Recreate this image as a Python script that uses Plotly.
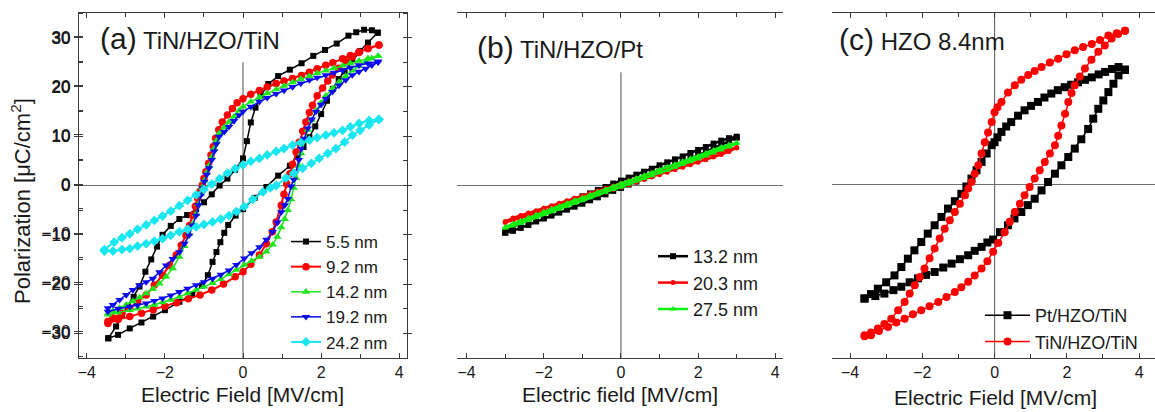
import plotly.graph_objects as go

# ---------------- Panel (a): TiN/HZO/TiN, thickness series ----------------
a_labels = ["5.5 nm", "9.2 nm", "14.2 nm", "19.2 nm", "24.2 nm"]

e55_lo = [-3.45, -3.2, -2.9, -2.6, -2.3, -2.0, -1.63, -1.3, -1.05, -0.9, -0.78, -0.68, -0.58, -0.48, -0.38, -0.19, 0.0, 0.3, 0.6, 0.9, 1.2, 1.4, 1.55, 1.7, 1.85, 2.0, 2.15, 2.3, 2.45, 2.6, 2.8, 3.0, 3.2, 3.45]
p55_lo = [-31.0, -30.3, -29.0, -27.8, -26.6, -25.3, -23.6, -22.1, -20.3, -18.2, -15.5, -13.5, -11.5, -9.6, -8.0, -6.1, -4.8, -2.5, -0.3, 2.0, 4.0, 6.0, 7.8, 9.8, 12.0, 14.5, 17.2, 19.6, 21.6, 23.2, 25.4, 27.3, 29.0, 31.0]
e55_up = [3.45, 3.3, 3.1, 2.9, 2.7, 2.4, 2.1, 1.8, 1.5, 1.2, 0.9, 0.65, 0.45, 0.32, 0.2, 0.1, 0.0, -0.2, -0.4, -0.6, -0.8, -1.0, -1.2, -1.43, -1.63, -1.85, -2.06, -2.2, -2.35, -2.5, -2.65, -2.8, -2.95, -3.1, -3.25, -3.45]
p55_up = [31.0, 31.5, 31.6, 31.1, 30.4, 28.8, 27.5, 26.3, 24.8, 23.5, 22.2, 20.6, 18.2, 15.8, 12.8, 9.0, 5.5, 3.2, 1.4, 0.0, -1.8, -3.4, -4.8, -6.0, -6.8, -8.2, -10.0, -12.4, -15.0, -17.5, -20.5, -22.6, -24.4, -26.4, -28.6, -31.0]

e92_lo = [-3.46, -3.2, -2.9, -2.6, -2.3, -2.0, -1.7, -1.4, -1.1, -0.8, -0.5, -0.2, 0.0, 0.2, 0.42, 0.6, 0.75, 0.85, 0.98, 1.05, 1.12, 1.2, 1.27, 1.36, 1.44, 1.53, 1.61, 1.7, 1.78, 1.9, 2.04, 2.17, 2.29, 2.45, 2.63, 2.8, 2.97, 3.2, 3.48]
p92_lo = [-28.0, -27.2, -26.6, -25.9, -25.2, -24.5, -23.8, -23.0, -22.2, -21.2, -20.0, -18.5, -17.5, -16.0, -14.1, -11.8, -9.4, -7.4, -4.0, -1.8, 0.3, 2.4, 4.3, 6.8, 8.8, 11.0, 12.9, 14.8, 16.3, 18.2, 19.8, 21.2, 22.4, 23.8, 25.1, 26.1, 27.0, 27.8, 28.5]
e92_up = [3.48, 3.2, 2.97, 2.75, 2.55, 2.3, 2.12, 1.9, 1.7, 1.5, 1.27, 1.05, 0.85, 0.62, 0.42, 0.2, 0.0, -0.15, -0.27, -0.4, -0.53, -0.62, -0.7, -0.76, -0.82, -0.88, -0.95, -1.0, -1.04, -1.1, -1.16, -1.22, -1.29, -1.37, -1.46, -1.58, -1.71, -1.88, -2.06, -2.27, -2.48, -2.7, -2.9, -3.1, -3.33, -3.46]
p92_up = [28.5, 27.8, 27.1, 26.4, 25.7, 24.9, 24.4, 23.7, 23.0, 22.3, 21.7, 21.2, 20.7, 20.0, 19.3, 18.5, 17.6, 16.8, 15.6, 14.3, 12.9, 11.3, 9.6, 7.9, 6.2, 4.5, 2.8, 1.4, 0.1, -1.2, -2.6, -4.2, -6.1, -8.1, -10.1, -12.1, -14.1, -16.2, -18.2, -20.2, -22.2, -23.6, -24.9, -25.9, -26.9, -27.6]

e_thick_up = [3.46, 3.2, 2.97, 2.75, 2.55, 2.33, 2.12, 1.9, 1.7, 1.48, 1.27, 1.05, 0.85, 0.62, 0.42, 0.2, 0.0, -0.1, -0.23, -0.36, -0.48, -0.61, -0.68, -0.74, -0.8, -0.87, -0.93, -0.99, -1.04, -1.08, -1.14, -1.2, -1.29, -1.38, -1.5, -1.63, -1.8, -1.97, -2.14, -2.31, -2.48, -2.65, -2.82, -2.99, -3.16, -3.33, -3.46]
e_thick_lo = [-3.46, -3.2, -2.9, -2.7, -2.48, -2.27, -2.06, -1.85, -1.63, -1.42, -1.2, -1.0, -0.78, -0.57, -0.36, -0.17, 0.03, 0.22, 0.42, 0.6, 0.76, 0.88, 0.98, 1.07, 1.15, 1.23, 1.3, 1.36, 1.43, 1.49, 1.57, 1.66, 1.76, 1.87, 2.0, 2.12, 2.29, 2.46, 2.63, 2.8, 2.97, 3.14, 3.3, 3.46]

p142_lo = [-26.2, -25.8, -25.3, -25.0, -24.6, -24.2, -23.7, -23.2, -22.6, -21.9, -21.2, -20.5, -19.8, -19.0, -18.0, -17.1, -16.1, -15.3, -14.5, -13.4, -12.0, -10.4, -8.5, -6.8, -5.0, -2.8, -0.5, 1.5, 4.0, 6.5, 9.0, 11.3, 13.3, 15.2, 16.8, 18.2, 19.7, 21.0, 22.2, 23.3, 24.2, 25.0, 25.8, 26.3]
p142_up = [26.3, 25.8, 25.3, 24.8, 24.3, 23.8, 23.3, 22.8, 22.2, 21.6, 20.9, 20.2, 19.5, 18.7, 17.9, 17.0, 16.0, 15.2, 14.0, 12.9, 11.8, 10.6, 9.1, 7.5, 5.8, 4.0, 2.6, 1.0, -0.4, -1.8, -3.8, -5.8, -7.8, -9.8, -12.3, -14.5, -16.8, -18.5, -19.9, -21.0, -21.9, -22.7, -23.5, -24.2, -24.9, -25.5, -26.0]

p192_lo = [-25.6, -25.0, -24.6, -24.3, -23.9, -23.4, -22.9, -22.3, -21.6, -20.9, -20.2, -19.6, -18.9, -18.1, -17.2, -16.1, -14.8, -13.7, -12.5, -11.0, -9.4, -7.5, -5.4, -4.0, -2.7, -0.2, 1.2, 2.8, 5.2, 7.5, 9.5, 11.6, 13.4, 15.0, 16.4, 17.6, 19.0, 20.3, 21.4, 22.4, 23.1, 23.7, 24.4, 25.0]
p192_up = [25.2, 24.8, 24.4, 23.9, 23.4, 22.9, 22.4, 21.9, 21.4, 20.7, 20.0, 19.3, 18.6, 17.8, 17.0, 16.0, 15.0, 14.3, 13.1, 11.9, 10.9, 9.9, 8.4, 6.9, 5.2, 3.5, 2.2, 0.8, -0.6, -2.0, -4.0, -6.1, -8.1, -10.1, -11.8, -13.5, -14.9, -16.2, -17.6, -18.9, -19.6, -20.2, -21.2, -22.2, -23.2, -24.2, -24.9]

e242_lo = [-3.55, -3.33, -3.1, -2.9, -2.7, -2.48, -2.27, -2.06, -1.85, -1.63, -1.42, -1.2, -1.0, -0.78, -0.57, -0.36, -0.17, 0.03, 0.25, 0.51, 0.7, 0.85, 1.1, 1.3, 1.53, 1.75, 1.95, 2.17, 2.38, 2.6, 2.8, 3.0, 3.23, 3.48]
p242_lo = [-13.3, -13.3, -13.0, -12.8, -12.3, -11.8, -11.3, -10.8, -10.1, -9.4, -8.9, -8.4, -7.9, -7.4, -6.8, -6.1, -5.3, -4.3, -2.8, -1.3, -0.5, 0.0, 1.5, 2.5, 3.5, 4.5, 5.5, 6.5, 7.5, 8.8, 10.2, 11.2, 12.3, 13.4]
e242_up = [3.48, 3.23, 2.97, 2.75, 2.55, 2.33, 2.12, 1.9, 1.7, 1.48, 1.27, 1.05, 0.85, 0.62, 0.42, 0.2, 0.0, -0.2, -0.4, -0.6, -0.8, -1.0, -1.2, -1.42, -1.63, -1.85, -2.06, -2.27, -2.48, -2.7, -2.9, -3.1, -3.3, -3.55]
p242_up = [13.4, 13.2, 12.6, 11.9, 11.2, 10.7, 10.2, 9.7, 9.2, 8.7, 8.2, 7.5, 6.9, 6.2, 5.5, 4.9, 4.2, 3.4, 2.5, 1.4, 0.3, -0.8, -1.9, -3.0, -4.1, -5.2, -6.2, -7.1, -8.0, -8.9, -9.8, -10.6, -11.5, -13.0]

# ---------------- Panel (b): TiN/HZO/Pt ----------------
b_labels = ["13.2 nm", "20.3 nm", "27.5 nm"]
eb_lo = [-3.0, -2.8, -2.6, -2.4, -2.2, -2.0, -1.8, -1.6, -1.4, -1.2, -1.0, -0.8, -0.6, -0.4, -0.2, 0.0, 0.2, 0.4, 0.6, 0.8, 1.0, 1.2, 1.4, 1.6, 1.8, 2.0, 2.2, 2.4, 2.6, 2.8, 3.0]
eb_up = [3.0, 2.8, 2.6, 2.4, 2.2, 2.0, 1.8, 1.6, 1.4, 1.2, 1.0, 0.8, 0.6, 0.4, 0.2, 0.0, -0.2, -0.4, -0.6, -0.8, -1.0, -1.2, -1.4, -1.6, -1.8, -2.0, -2.2, -2.4, -2.6, -2.8, -3.0]
pb132_lo = [-9.6, -9.2, -8.6, -8.0, -7.3, -6.7, -6.1, -5.5, -4.9, -4.3, -3.7, -3.0, -2.4, -1.8, -1.1, -0.5, 0.2, 0.8, 1.5, 2.1, 2.8, 3.4, 4.1, 4.7, 5.4, 6.1, 6.8, 7.5, 8.2, 8.9, 9.7]
pb132_up = [9.9, 9.6, 9.1, 8.5, 7.8, 7.2, 6.6, 5.9, 5.3, 4.7, 4.1, 3.4, 2.8, 2.2, 1.6, 1.0, 0.4, -0.3, -0.9, -1.6, -2.2, -2.9, -3.5, -4.2, -4.9, -5.5, -6.2, -6.9, -7.6, -8.4, -9.5]
pb203_lo = [-7.5, -7.0, -6.6, -6.1, -5.6, -5.2, -4.7, -4.2, -3.8, -3.3, -2.8, -2.3, -1.8, -1.3, -0.8, -0.3, 0.2, 0.7, 1.2, 1.7, 2.2, 2.7, 3.2, 3.7, 4.2, 4.7, 5.2, 5.8, 6.3, 6.9, 7.6]
pb203_up = [7.7, 7.3, 6.9, 6.4, 5.9, 5.4, 4.9, 4.4, 3.9, 3.4, 2.9, 2.4, 1.9, 1.4, 0.9, 0.4, -0.1, -0.6, -1.1, -1.6, -2.1, -2.6, -3.1, -3.6, -4.1, -4.6, -5.1, -5.6, -6.1, -6.6, -7.3]
pb275_lo = [-8.6, -8.2, -7.7, -7.1, -6.5, -5.9, -5.4, -4.8, -4.2, -3.6, -3.1, -2.5, -1.9, -1.4, -0.8, -0.3, 0.3, 0.9, 1.4, 2.0, 2.6, 3.1, 3.7, 4.3, 4.8, 5.4, 6.0, 6.6, 7.2, 7.8, 8.5]
pb275_up = [8.7, 8.3, 7.8, 7.2, 6.6, 6.0, 5.5, 4.9, 4.3, 3.8, 3.2, 2.6, 2.1, 1.5, 0.9, 0.4, -0.2, -0.8, -1.3, -1.9, -2.5, -3.0, -3.6, -4.2, -4.7, -5.3, -5.9, -6.5, -7.1, -7.7, -8.4]

# ---------------- Panel (c): HZO 8.4 nm, electrode comparison ----------------
c_labels = ["Pt/HZO/TiN", "TiN/HZO/TiN"]
ec_pt_lo = [-3.6, -3.3, -3.05, -2.8, -2.58, -2.35, -2.12, -1.9, -1.66, -1.42, -1.19, -0.96, -0.73, -0.55, -0.36, -0.2, -0.04, 0.15, 0.37, 0.55, 0.74, 0.92, 1.11, 1.3, 1.48, 1.67, 1.85, 2.04, 2.22, 2.4, 2.59, 2.73, 2.87, 3.01, 3.15, 3.29, 3.43, 3.61]
pc_pt_lo = [-23.3, -22.8, -22.3, -21.6, -20.9, -20.0, -19.2, -18.5, -17.9, -17.0, -16.2, -15.3, -14.5, -13.6, -12.8, -11.9, -11.3, -9.8, -8.4, -7.0, -5.7, -4.3, -3.0, -1.3, 0.4, 2.1, 3.8, 5.5, 7.2, 9.1, 11.2, 13.3, 15.3, 17.0, 18.7, 20.4, 22.1, 23.2]
ec_pt_up = [3.61, 3.43, 3.25, 3.06, 2.88, 2.69, 2.5, 2.31, 2.12, 1.94, 1.75, 1.57, 1.38, 1.2, 1.01, 0.83, 0.65, 0.46, 0.32, 0.19, 0.08, 0.0, -0.08, -0.22, -0.36, -0.5, -0.64, -0.78, -0.92, -1.1, -1.29, -1.47, -1.66, -1.85, -2.03, -2.22, -2.4, -2.58, -2.77, -3.0, -3.23, -3.42, -3.6]
pc_pt_up = [23.3, 23.8, 23.4, 22.8, 22.3, 21.7, 21.2, 20.7, 20.2, 19.7, 19.1, 18.4, 17.6, 16.7, 15.9, 15.0, 13.9, 12.6, 11.7, 10.6, 9.5, 8.5, 7.9, 6.2, 4.5, 2.8, 1.1, -0.5, -2.0, -3.5, -5.0, -6.7, -8.4, -10.1, -11.8, -13.5, -15.2, -16.9, -18.6, -20.0, -21.3, -22.4, -23.3]
ec_tin_lo = [-3.6, -3.42, -3.2, -2.95, -2.72, -2.49, -2.26, -2.03, -1.8, -1.56, -1.33, -1.1, -0.92, -0.73, -0.55, -0.36, -0.2, -0.04, 0.1, 0.28, 0.42, 0.56, 0.7, 0.83, 0.97, 1.11, 1.25, 1.39, 1.53, 1.67, 1.76, 1.85, 1.95, 2.04, 2.13, 2.22, 2.36, 2.5, 2.68, 2.87, 3.05, 3.24, 3.42, 3.61]
pc_tin_lo = [-31.0, -30.8, -29.9, -29.1, -28.2, -27.4, -26.5, -25.7, -24.9, -24.0, -23.0, -22.0, -21.0, -19.9, -18.6, -17.2, -15.7, -13.8, -12.0, -9.8, -7.7, -5.7, -4.0, -2.3, -0.6, 1.1, 2.8, 4.5, 6.2, 7.9, 9.8, 11.9, 14.3, 16.7, 18.5, 20.1, 21.9, 23.5, 25.3, 26.9, 28.2, 29.6, 30.5, 31.2]
ec_tin_up = [3.61, 3.38, 3.15, 2.92, 2.69, 2.45, 2.22, 1.99, 1.76, 1.53, 1.3, 1.11, 0.93, 0.74, 0.56, 0.37, 0.19, 0.08, 0.0, -0.08, -0.18, -0.27, -0.36, -0.45, -0.55, -0.64, -0.73, -0.82, -0.96, -1.1, -1.24, -1.38, -1.52, -1.66, -1.8, -1.94, -2.07, -2.21, -2.35, -2.49, -2.67, -2.86, -3.05, -3.23, -3.42, -3.6]
pc_tin_up = [31.2, 30.7, 30.2, 29.3, 28.5, 27.9, 27.2, 26.4, 25.5, 24.7, 23.8, 23.0, 22.2, 21.2, 20.1, 18.6, 16.7, 15.6, 14.6, 12.6, 10.5, 8.5, 6.2, 3.8, 2.1, 0.4, -0.9, -2.3, -4.0, -5.7, -7.4, -9.1, -11.1, -13.1, -15.1, -17.2, -18.9, -20.6, -22.3, -24.0, -25.7, -27.4, -28.5, -29.4, -30.2, -30.8]

# ---------------- styling ----------------
FONT = "Arial, Liberation Sans, sans-serif"
TXT = "#1a1a1a"
AX = "#3a3a3a"
W, H = 1155, 412

fig = go.Figure()

def loop(name, elo, plo, eup, pup, color, symbol, msize, lw, ax, leg):
    fig.add_trace(go.Scatter(
        x=elo + eup, y=plo + pup, name=name, mode="lines+markers",
        line=dict(color=color, width=lw),
        marker=dict(symbol=symbol, size=msize, color=color, line=dict(width=0)),
        xaxis="x" + ax, yaxis="y" + ax, legend=leg))

loop(a_labels[0], e55_lo, p55_lo, e55_up, p55_up, "#000000", "square", 6, 1.5, "", "legend")
loop(a_labels[1], e92_lo, p92_lo, e92_up, p92_up, "#ff0000", "circle", 7.5, 2, "", "legend")
loop(a_labels[2], e_thick_lo, p142_lo, e_thick_up, p142_up, "#1ee61e", "triangle-up", 7.5, 1.5, "", "legend")
loop(a_labels[3], e_thick_lo, p192_lo, e_thick_up, p192_up, "#0a0aee", "triangle-down", 7.5, 1.5, "", "legend")
loop(a_labels[4], e242_lo, p242_lo, e242_up, p242_up, "#18e6f0", "diamond", 7.5, 2, "", "legend")

loop(b_labels[0], eb_lo, pb132_lo, eb_up, pb132_up, "#000000", "square", 6, 2.5, "2", "legend2")
loop(b_labels[1], eb_lo, pb203_lo, eb_up, pb203_up, "#ff0000", "circle", 5, 2.5, "2", "legend2")
loop(b_labels[2], eb_lo, pb275_lo, eb_up, pb275_up, "#10f010", "triangle-up", 6, 2.5, "2", "legend2")

loop(c_labels[0], ec_pt_lo, pc_pt_lo, ec_pt_up, pc_pt_up, "#000000", "square", 8, 1.5, "3", "legend3")
loop(c_labels[1], ec_tin_lo, pc_tin_lo, ec_tin_up, pc_tin_up, "#ff0000", "circle", 8, 1.5, "3", "legend3")

def px(v):
    return v / W

def py(v):
    return 1 - v / H

def xax(dom, rng):
    return dict(domain=dom, range=rng, showline=True, linecolor=AX, linewidth=1.3, mirror="ticks",
                ticks="inside", ticklen=5, tickcolor=AX, tickwidth=1.2, dtick=2, tick0=0,
                minor=dict(ticks="inside", ticklen=4, dtick=1, tickcolor=AX, showgrid=False),
                showgrid=False, zeroline=False, automargin=False,
                tickfont=dict(family=FONT, size=16, color=TXT))

def yax(dom, rng, mirror="ticks"):
    return dict(domain=dom, range=rng, showline=True, linecolor=AX, linewidth=1.3, mirror=mirror,
                ticks="outside", ticklen=4, tickcolor=AX, tickwidth=1.2, dtick=10, tick0=0,
                minor=dict(ticks="inside", ticklen=4, dtick=5, tickcolor=AX, showgrid=False),
                showgrid=False, zeroline=True, zerolinecolor="#6e6e6e", zerolinewidth=1.2,
                automargin=False, tickfont=dict(family=FONT, size=17, color=TXT))

ydom = [py(358), py(13)]
ydom_c = [py(356), py(12)]

fig.update_layout(
    width=W, height=H, margin=dict(l=0, r=0, t=0, b=0, autoexpand=False),
    paper_bgcolor="white", plot_bgcolor="white",
    xaxis=xax([px(79), px(407)], [-4.2, 4.2]),
    yaxis=yax(ydom, [-35, 35]),
    xaxis2=xax([px(457), px(783)], [-4.25, 4.2]),
    yaxis2=yax(ydom, [-35, 35]),
    xaxis3=xax([px(832), 1.0], [-4.5, 4.44]),
    yaxis3=yax(ydom_c, [-35, 35], mirror=False),
    legend=dict(x=px(286), y=py(224), xanchor="left", yanchor="top", bgcolor="rgba(0,0,0,0)",
                font=dict(family=FONT, size=17, color=TXT), itemwidth=30, tracegroupgap=0),
    legend2=dict(x=px(653), y=py(238), xanchor="left", yanchor="top", bgcolor="rgba(0,0,0,0)",
                 font=dict(family=FONT, size=18, color=TXT), itemwidth=30),
    legend3=dict(x=px(980), y=py(297), xanchor="left", yanchor="top", bgcolor="rgba(0,0,0,0)",
                 font=dict(family=FONT, size=18, color=TXT), itemwidth=45),
    showlegend=True,
)

# vertical zero lines
fig.add_shape(type="line", xref="x", yref="y", x0=0, x1=0, y0=-35, y1=25,
              line=dict(color="#6e6e6e", width=1.2), layer="below")
fig.add_shape(type="line", xref="x2", yref="y2", x0=0, x1=0, y0=-35, y1=23,
              line=dict(color="#6e6e6e", width=1.2), layer="below")
fig.add_shape(type="line", xref="x3", yref="y3", x0=0, x1=0, y0=-35, y1=35,
              line=dict(color="#6e6e6e", width=1.2), layer="below")

def ann(text, x, y, size, xanchor="left", angle=0):
    fig.add_annotation(text=text, x=x, y=y, xref="paper", yref="paper", xanchor=xanchor,
                       yanchor="middle", showarrow=False, textangle=angle,
                       font=dict(family=FONT, size=size, color=TXT))

ann("<span style='font-size:30px'>(a)</span> TiN/HZO/TiN", px(98), py(39), 24)
ann("<span style='font-size:30px'>(b)</span> TiN/HZO/Pt", px(475), py(48), 24)
ann("<span style='font-size:30px'>(c)</span> HZO 8.4nm", px(837), py(40), 24)

ann("Electric Field [MV/cm]", px(243), py(394), 21, xanchor="center")
ann("Electric field [MV/cm]", px(620), py(394), 21, xanchor="center")
ann("Electric Field [MV/cm]", px(995), py(397), 21, xanchor="center")
ann("Polarization [\u03bcC/cm<sup>2</sup>]", px(21), py(201), 22, xanchor="center", angle=-90)

fig.write_html("out.html", config={"displayModeBar": False},
               post_script="document.body.style.margin='0';document.body.style.overflow='hidden';")
